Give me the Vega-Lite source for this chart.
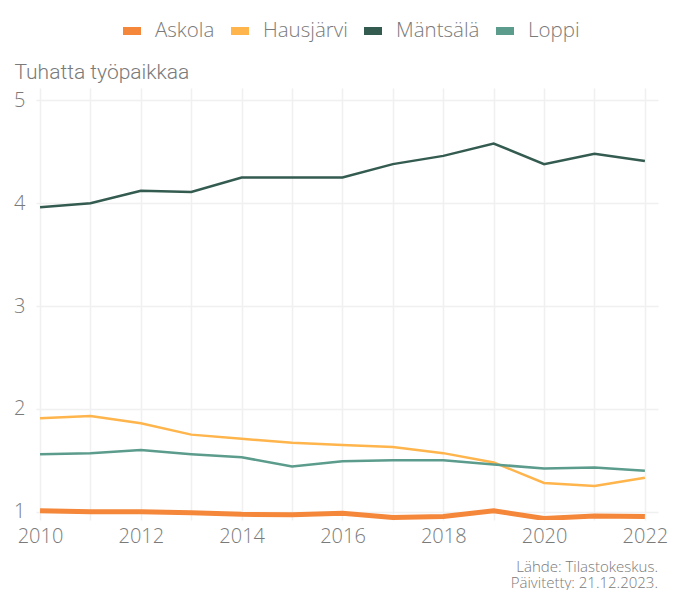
{
  "$schema": "https://vega.github.io/schema/vega-lite/v6.json",
  "width": 622,
  "height": 432,
  "autosize": {"type": "none"},
  "padding": {"left": 36, "top": 88, "right": 25, "bottom": 70},
  "background": "white",
  "config": {
    "view": {"stroke": null},
    "font": "Open Sans",
    "axis": {"domain": false, "ticks": false, "labelColor": "#7a7a7a", "labelFont": "Open Sans", "gridColor": "#f0f0f0", "gridWidth": 1.5}
  },
  "title": {
    "text": ["Lähde: Tilastokeskus.", "Päivitetty: 21.12.2023."],
    "orient": "bottom",
    "anchor": "end",
    "align": "right",
    "frame": "group",
    "offset": 14,
    "fontSize": 15,
    "fontWeight": 300,
    "color": "#7a7a7a",
    "font": "Open Sans",
    "lineHeight": 16
  },
  "data": {
    "values": [
      {"vuosi": 2010, "kunta": "Askola", "arvo": 1.01},
      {"vuosi": 2011, "kunta": "Askola", "arvo": 1.0},
      {"vuosi": 2012, "kunta": "Askola", "arvo": 1.0},
      {"vuosi": 2013, "kunta": "Askola", "arvo": 0.99},
      {"vuosi": 2014, "kunta": "Askola", "arvo": 0.975},
      {"vuosi": 2015, "kunta": "Askola", "arvo": 0.972},
      {"vuosi": 2016, "kunta": "Askola", "arvo": 0.985},
      {"vuosi": 2017, "kunta": "Askola", "arvo": 0.945},
      {"vuosi": 2018, "kunta": "Askola", "arvo": 0.955},
      {"vuosi": 2019, "kunta": "Askola", "arvo": 1.01},
      {"vuosi": 2020, "kunta": "Askola", "arvo": 0.935},
      {"vuosi": 2021, "kunta": "Askola", "arvo": 0.96},
      {"vuosi": 2022, "kunta": "Askola", "arvo": 0.953},
      {"vuosi": 2010, "kunta": "Hausjärvi", "arvo": 1.91},
      {"vuosi": 2011, "kunta": "Hausjärvi", "arvo": 1.93},
      {"vuosi": 2012, "kunta": "Hausjärvi", "arvo": 1.86},
      {"vuosi": 2013, "kunta": "Hausjärvi", "arvo": 1.75},
      {"vuosi": 2014, "kunta": "Hausjärvi", "arvo": 1.71},
      {"vuosi": 2015, "kunta": "Hausjärvi", "arvo": 1.67},
      {"vuosi": 2016, "kunta": "Hausjärvi", "arvo": 1.65},
      {"vuosi": 2017, "kunta": "Hausjärvi", "arvo": 1.63},
      {"vuosi": 2018, "kunta": "Hausjärvi", "arvo": 1.57},
      {"vuosi": 2019, "kunta": "Hausjärvi", "arvo": 1.48},
      {"vuosi": 2020, "kunta": "Hausjärvi", "arvo": 1.28},
      {"vuosi": 2021, "kunta": "Hausjärvi", "arvo": 1.25},
      {"vuosi": 2022, "kunta": "Hausjärvi", "arvo": 1.33},
      {"vuosi": 2010, "kunta": "Mäntsälä", "arvo": 3.96},
      {"vuosi": 2011, "kunta": "Mäntsälä", "arvo": 4.0},
      {"vuosi": 2012, "kunta": "Mäntsälä", "arvo": 4.12},
      {"vuosi": 2013, "kunta": "Mäntsälä", "arvo": 4.11},
      {"vuosi": 2014, "kunta": "Mäntsälä", "arvo": 4.25},
      {"vuosi": 2015, "kunta": "Mäntsälä", "arvo": 4.25},
      {"vuosi": 2016, "kunta": "Mäntsälä", "arvo": 4.25},
      {"vuosi": 2017, "kunta": "Mäntsälä", "arvo": 4.38},
      {"vuosi": 2018, "kunta": "Mäntsälä", "arvo": 4.46},
      {"vuosi": 2019, "kunta": "Mäntsälä", "arvo": 4.58},
      {"vuosi": 2020, "kunta": "Mäntsälä", "arvo": 4.38},
      {"vuosi": 2021, "kunta": "Mäntsälä", "arvo": 4.48},
      {"vuosi": 2022, "kunta": "Mäntsälä", "arvo": 4.41},
      {"vuosi": 2010, "kunta": "Loppi", "arvo": 1.56},
      {"vuosi": 2011, "kunta": "Loppi", "arvo": 1.57},
      {"vuosi": 2012, "kunta": "Loppi", "arvo": 1.60},
      {"vuosi": 2013, "kunta": "Loppi", "arvo": 1.56},
      {"vuosi": 2014, "kunta": "Loppi", "arvo": 1.53},
      {"vuosi": 2015, "kunta": "Loppi", "arvo": 1.44},
      {"vuosi": 2016, "kunta": "Loppi", "arvo": 1.49},
      {"vuosi": 2017, "kunta": "Loppi", "arvo": 1.50},
      {"vuosi": 2018, "kunta": "Loppi", "arvo": 1.50},
      {"vuosi": 2019, "kunta": "Loppi", "arvo": 1.46},
      {"vuosi": 2020, "kunta": "Loppi", "arvo": 1.42},
      {"vuosi": 2021, "kunta": "Loppi", "arvo": 1.43},
      {"vuosi": 2022, "kunta": "Loppi", "arvo": 1.40}
    ]
  },
  "encoding": {
    "x": {
      "field": "vuosi",
      "type": "quantitative",
      "scale": {"domain": [2009.92, 2022.26], "nice": false, "zero": false},
      "axis": {
        "title": null,
        "values": [2010, 2011, 2012, 2013, 2014, 2015, 2016, 2017, 2018, 2019, 2020, 2021, 2022],
        "labelExpr": "datum.value % 2 == 0 ? format(datum.value, 'd') : ''",
        "labelFontSize": 20,
        "labelFontWeight": 300,
        "labelPadding": 6,
        "labelFlush": false
      }
    },
    "y": {
      "field": "arvo",
      "type": "quantitative",
      "scale": {"domain": [0.92, 5.12], "nice": false, "zero": false},
      "axis": {
        "values": [1, 2, 3, 4, 5],
        "format": "d",
        "labelFontSize": 20,
        "labelFontWeight": 300,
        "labelPadding": 11,
        "title": "Tuhatta työpaikkaa",
        "titleAngle": 0,
        "titleAlign": "left",
        "titleBaseline": "alphabetic",
        "titleX": -22,
        "titleY": -10,
        "titleFontSize": 21,
        "titleFontWeight": 300,
        "titleColor": "#7a7a7a",
        "titleFont": "Roboto"
      }
    },
    "color": {
      "field": "kunta",
      "type": "nominal",
      "scale": {
        "domain": ["Askola", "Hausjärvi", "Mäntsälä", "Loppi"],
        "range": ["#f4873a", "#ffb54c", "#345b50", "#5b9c8c"]
      },
      "legend": {
        "title": null,
        "orient": "none",
        "direction": "horizontal",
        "legendX": 83,
        "legendY": -70,
        "symbolType": "stroke",
        "symbolSize": 324,
        "symbolStrokeWidth": 8,
        "labelFontSize": 20.5,
        "labelFontWeight": 300,
        "labelColor": "#7a7a7a",
        "labelFont": "Open Sans",
        "columnPadding": 0,
        "labelOffset": 10
      }
    }
  },
  "layer": [
    {
      "transform": [{"filter": "datum.kunta != 'Askola'"}],
      "mark": {"type": "line", "strokeWidth": 2.5, "clip": true}
    },
    {
      "transform": [{"filter": "datum.kunta == 'Askola'"}],
      "mark": {"type": "line", "strokeWidth": 5, "clip": true}
    }
  ]
}
